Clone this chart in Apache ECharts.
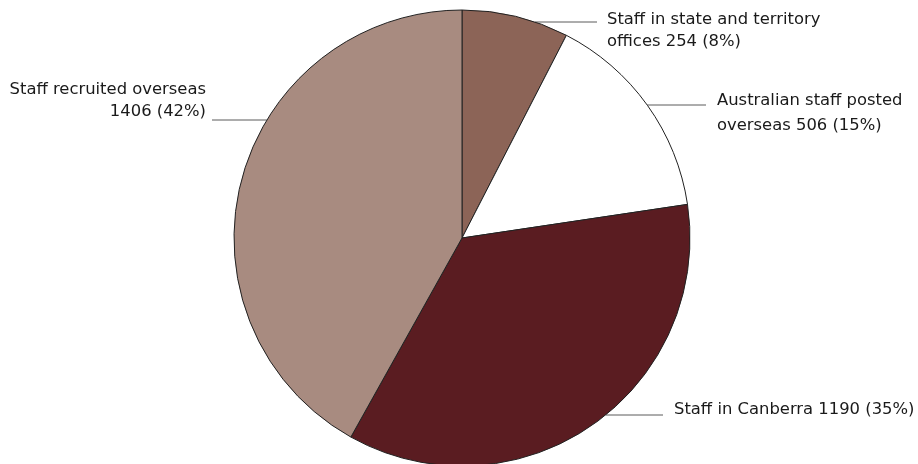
<!DOCTYPE html>
<html>
<head>
<meta charset="utf-8">
<script src="https://cdn.jsdelivr.net/npm/echarts@6/dist/echarts.min.js"></script>
<style>
html,body{margin:0;padding:0;background:#fff;}
#chart{width:918px;height:464px;}
</style>
</head>
<body>
<div id="chart"></div>
<script>
// Data
const categories = [
  "Staff in state and territory\noffices",
  "Australian staff posted\noverseas",
  "Staff in Canberra",
  "Staff recruited overseas\n"
];
const values = [254, 506, 1190, 1406];
const colors = ["#8C6457", "#FFFFFF", "#5A1C21", "#A88B80"];

// Label placement (layout only)
const labelPos = [
  {lineY: 22, textX: 607, textY: 9, align: "left", lineEnd: 597},
  {lineY: 105, textX: 717, textY: 88, align: "left", lineEnd: 706},
  {lineY: 415, textX: 674, textY: 399, align: "left", lineEnd: 663},
  {lineY: 120, textX: 206, textY: 79, align: "right", lineEnd: 212}
];
const lineHeights = [22, 25, 22, 22];

const CX = 462, CY = 238, R = 228;
const total = values.reduce((a, b) => a + b, 0);

const chart = echarts.init(document.getElementById('chart'));
chart.setOption({
  animation: false,
  backgroundColor: '#fff',
  series: [{
    type: 'pie',
    center: [CX, CY],
    radius: R,
    startAngle: 90,
    clockwise: true,
    avoidLabelOverlap: false,
    data: categories.map((c, i) => ({
      name: c,
      value: values[i],
      itemStyle: {color: colors[i]},
      label: {lineHeight: lineHeights[i]}
    })),
    itemStyle: {borderColor: '#222', borderWidth: 1},
    label: {
      show: true,
      position: 'outside',
      fontFamily: 'DejaVu Sans',
      fontSize: 16.4,
      color: '#1a1a1a',
      formatter: function (p) {
        const pct = Math.round(p.value / total * 100);
        const sep = p.name.endsWith('\n') ? '' : ' ';
        return p.name + sep + p.value + ' (' + pct + '%)';
      }
    },
    labelLine: {show: true, lineStyle: {color: '#5a5a5a', width: 1}},
    labelLayout: function (params) {
      const lp = labelPos[params.dataIndex];
      const dy = lp.lineY - CY;
      const dx = Math.sqrt(R * R - dy * dy);
      const sx = lp.align === 'left' ? CX + dx : CX - dx;
      return {
        x: lp.textX,
        y: lp.textY,
        align: lp.align,
        verticalAlign: 'top',
        labelLinePoints: [[sx, lp.lineY], [lp.lineEnd, lp.lineY], [lp.lineEnd, lp.lineY]]
      };
    }
  }]
});
</script>
</body>
</html>
